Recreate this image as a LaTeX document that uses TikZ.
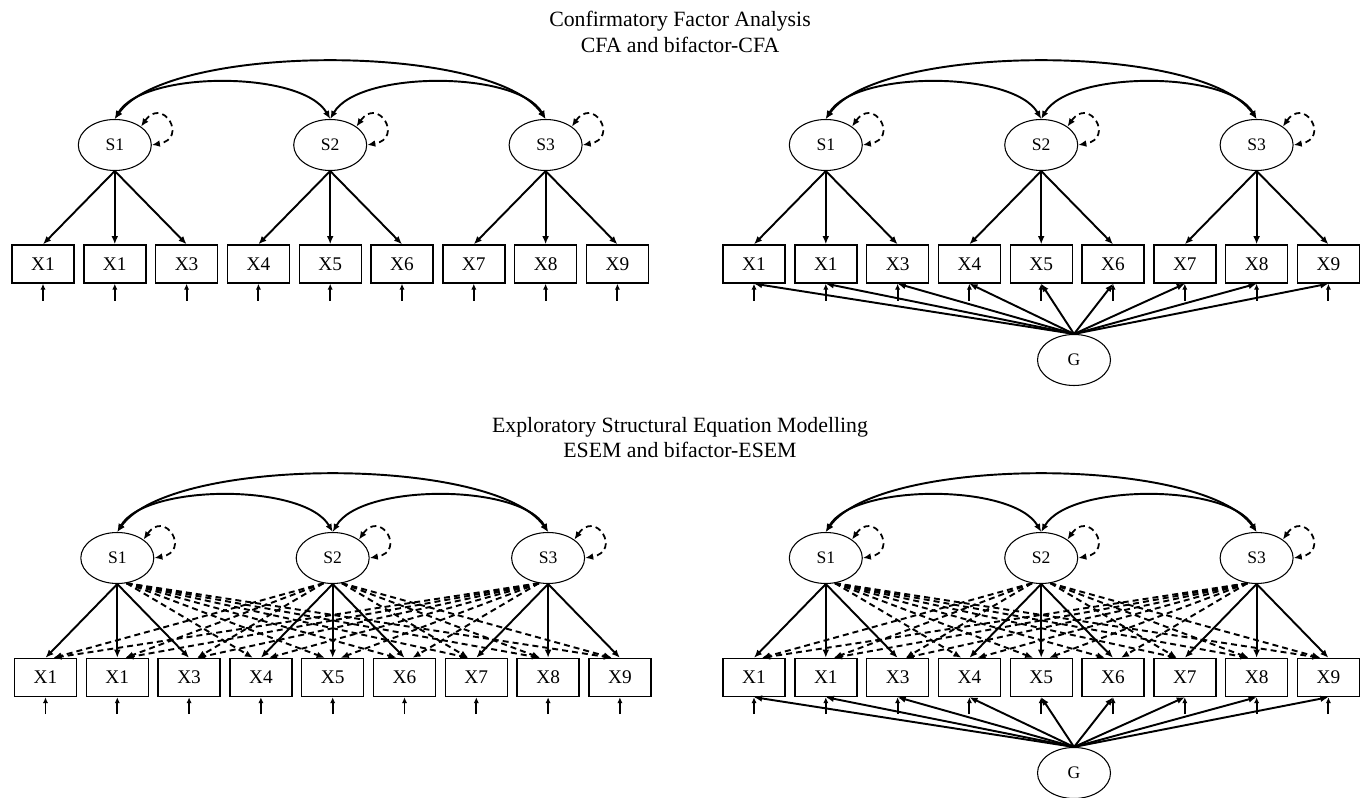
\documentclass[tikz,border=0pt]{standalone}
\usepackage{fontspec}
\setmainfont{Liberation Serif}
\usetikzlibrary{arrows.meta,calc,positioning,shapes.geometric}
\tikzset{
  latent/.style={draw,ellipse,line width=0.6pt,minimum width=1.46cm,minimum height=1.02cm,inner sep=0pt,font=\fontsize{10}{12}\selectfont},
  item/.style={draw,rectangle,line width=0.8pt,minimum width=1.24cm,minimum height=0.76cm,inner sep=0pt,font=\fontsize{11}{13}\selectfont},
  heading/.style={font=\fontsize{12.4}{15}\selectfont,anchor=base,inner sep=0pt},
  load/.style={->,line width=1.1pt},
  cross/.style={->,line width=1.1pt,dash pattern=on 3.4pt off 2.3pt},
  cov/.style={<->,line width=1.1pt},
  resid/.style={-{Latex[length=3.4pt,width=3pt]},line width=1.1pt},
  vloop/.style={<->,line width=1pt,dash pattern=on 3.4pt off 2.3pt,out=55,in=10,looseness=4.5}
}

\begin{document}
\begin{tikzpicture}[>={Latex[length=4.6pt,width=3.8pt]}]
  \useasboundingbox (0,0) rectangle (27.26,15.94);

  \node[heading] (cfahead) at (13.6,15.40) {Confirmatory Factor Analysis};
  \node[heading] (cfasub) at (13.6,14.88) {CFA and bifactor-CFA};
  \node[heading] (esemhead) at (13.6,7.28) {Exploratory Structural Equation Modelling};
  \node[heading] (esemsub) at (13.6,6.78) {ESEM and bifactor-ESEM};

  \foreach \p/\ox/\ys/\yx in {a/0.86/13.04/10.66, b/15.08/13.04/10.66, c/0.91/4.78/2.39, d/15.08/4.78/2.39} {
    \foreach \k/\lab in {1/X1,2/X1,3/X3,4/X4,5/X5,6/X6,7/X7,8/X8,9/X9} {
      \node[item] (x\p\k) at ({\ox+(\k-1)*1.436},\yx) {\lab};
      \coordinate (e\p\k) at ($(x\p\k.south)+(0,-0.34)$);
      \draw[resid] (e\p\k) -- (x\p\k.south);
    }
    \foreach \j/\k in {1/2,2/5,3/8}
      \node[latent] (s\p\j) at ({\ox+(\k-1)*1.436},\ys) {S\j};
    \foreach \j in {1,2,3} {
      \draw[vloop] (s\p\j.35) to (s\p\j.0);
      \foreach \k in {1,2,3}
        \draw[load] (s\p\j.south) -- (x\p\the\numexpr3*\j-3+\k\relax.north);
    }
    \draw[cov] (s\p1.north) to[out=60,in=120,looseness=0.67] (s\p2.north);
    \draw[cov] (s\p2.north) to[out=60,in=120,looseness=0.67] (s\p3.north);
    \draw[cov] (s\p1.north) to[out=55,in=125,looseness=0.555] (s\p3.north);
  }

  \foreach \p/\yg in {b/8.74,d/0.48} {
    \node[latent] (g\p) at (21.48,\yg) {G};
    \foreach \k in {1,...,9}
      \draw[load] (g\p.north) -- (x\p\k.south);
  }

  \foreach \p in {c,d} {
    \foreach \k in {4,...,9}
      \draw[cross] (s\p1.-70) -- ([xshift=-0.16cm]x\p\k.north);
    \foreach \k in {1,2,3}
      \draw[cross] (s\p2.-110) -- ([xshift=0.16cm]x\p\k.north);
    \foreach \k in {7,8,9}
      \draw[cross] (s\p2.-70) -- ([xshift=-0.16cm]x\p\k.north);
    \foreach \k in {1,...,6}
      \draw[cross] (s\p3.-110) -- ([xshift=0.16cm]x\p\k.north);
  }
\end{tikzpicture}
\end{document}
